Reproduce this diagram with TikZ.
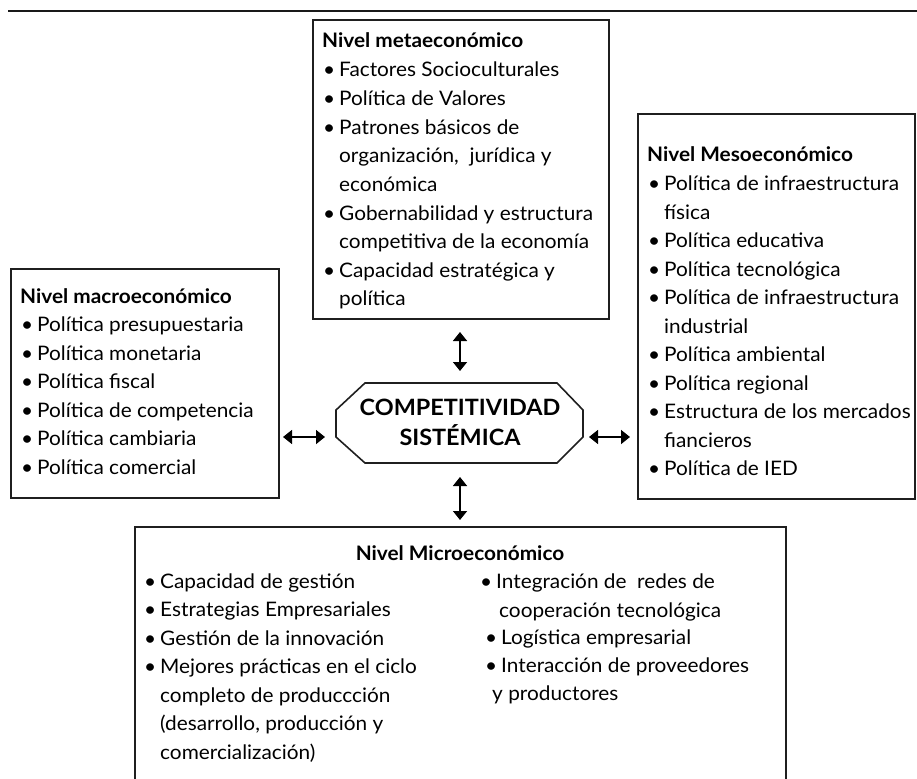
\documentclass[tikz,border=0pt]{standalone}
\usepackage{fontspec}
\setmainfont{Lato}[FakeStretch=1.04]
\usetikzlibrary{arrows.meta}
\newcommand\bul{\makebox[16pt][l]{\textbullet}}
\tikzset{
  ln/.style={anchor=base west, inner sep=0pt, font=\fontsize{20}{22}\selectfont},
  ttl/.style={anchor=base west, inner sep=0pt, font=\fontsize{20}{22}\selectfont\bfseries},
  frame/.style={draw=black!88, line width=1.6pt, inner sep=0pt, anchor=north west},
  biarrow/.style={line width=1.6pt, {Triangle[width=14pt,length=9pt]}-{Triangle[width=14pt,length=9pt]}},
}
\begin{document}
\begin{tikzpicture}[x=1pt,y=-1pt]
\useasboundingbox (0,0) rectangle (917,778);
% top rule
\coordinate (r1) at (8,11);
\coordinate (r2) at (917,11);
\draw[line width=2.6pt, black!90] (r1) -- (r2);

% boxes
\node[frame, minimum width=296pt, minimum height=299pt] (meta) at (312,19) {};
\node[frame, minimum width=268pt, minimum height=229pt] (macro) at (10,268) {};
\node[frame, minimum width=277pt, minimum height=385pt] (meso) at (637,113) {};
\coordinate (mi1) at (135,779);
\coordinate (mi2) at (135,527);
\coordinate (mi3) at (786,527);
\coordinate (mi4) at (786,779);
\draw[draw=black!88, line width=1.6pt] (mi1) -- (mi2) -- (mi3) -- (mi4);

% octagon
\coordinate (o1) at (336,410);
\coordinate (o2) at (365,383);
\coordinate (o3) at (557,383);
\coordinate (o4) at (583,410);
\coordinate (o5) at (583,437);
\coordinate (o6) at (557,463);
\coordinate (o7) at (365,463);
\coordinate (o8) at (336,437);
\draw[draw=black!88, line width=1.6pt] (o1) -- (o2) -- (o3) -- (o4) -- (o5) -- (o6) -- (o7) -- (o8) -- cycle;
\node[anchor=base, inner sep=0pt, font=\fontsize{22.5}{24}\selectfont\bfseries] (c1) at (460,415) {COMPETITIVIDAD};
\node[anchor=base, inner sep=0pt, font=\fontsize{22.5}{24}\selectfont\bfseries] (c2) at (460,445) {SISTÉMICA};

% arrows
\coordinate (at1) at (460,332);
\coordinate (at2) at (460,371);
\coordinate (ab1) at (460,477);
\coordinate (ab2) at (460,520);
\coordinate (al1) at (283,437);
\coordinate (al2) at (325,437);
\coordinate (ar1) at (589,437);
\coordinate (ar2) at (630,437);
\draw[biarrow] (at1) -- (at2);
\draw[biarrow] (ab1) -- (ab2);
\draw[biarrow] (al1) -- (al2);
\draw[biarrow] (ar1) -- (ar2);

% meta text
\node[ttl] (t1) at (322,48) {Nivel metaeconómico};
\node[ln] (t2) at (323,77) {\bul Factores Socioculturales};
\node[ln] (t3) at (323,105.6) {\bul Política de Valores};
\node[ln] (t4) at (323,134.2) {\bul Patrones básicos de};
\node[ln] (t5) at (339,162.8) {organización,\ \ jurídica y};
\node[ln] (t6) at (339,191.4) {económica};
\node[ln] (t7) at (323,220) {\bul Gobernabilidad y estructura};
\node[ln] (t8) at (339,248.6) {competitiva de la economía};
\node[ln] (t9) at (323,277.2) {\bul Capacidad estratégica y};
\node[ln] (t10) at (339,305.8) {política};

% macro text
\node[ttl] (l1) at (20,303) {Nivel macroeconómico};
\node[ln] (l2) at (21,331.5) {\bul Política presupuestaria};
\node[ln] (l3) at (21,360) {\bul Política monetaria};
\node[ln] (l4) at (21,388.5) {\bul Política fiscal};
\node[ln] (l5) at (21,417) {\bul Política de competencia};
\node[ln] (l6) at (21,445.5) {\bul Política cambiaria};
\node[ln] (l7) at (21,474) {\bul Política comercial};

% meso text
\node[ttl] (r01) at (647,162) {Nivel Mesoeconómico};
\node[ln] (r02) at (648,190.5) {\bul Política de infraestructura};
\node[ln] (r03) at (664,219) {física};
\node[ln] (r04) at (648,247.5) {\bul Política educativa};
\node[ln] (r05) at (648,276) {\bul Política tecnológica};
\node[ln] (r06) at (648,304.5) {\bul Política de infraestructura};
\node[ln] (r07) at (664,333) {industrial};
\node[ln] (r08) at (648,361.5) {\bul Política ambiental};
\node[ln] (r09) at (648,390) {\bul Política regional};
\node[ln] (r10) at (648,418.5) {\bul Estructura de los mercados};
\node[ln] (r11) at (664,447) {fiancieros};
\node[ln] (r12) at (648,475.5) {\bul Política de IED};

% micro text
\node[ttl, anchor=base] (b0) at (460,560) {Nivel Microeconómico};
\node[ln] (b1) at (144,588) {\bul Capacidad de gestión};
\node[ln] (b2) at (144,616.5) {\bul Estrategias Empresariales};
\node[ln] (b3) at (144,645) {\bul Gestión de la innovación};
\node[ln] (b4) at (144,673.5) {\bul Mejores prácticas en el ciclo};
\node[ln] (b5) at (160,702) {completo de produccción};
\node[ln] (b6) at (160,730.5) {(desarrollo, producción y};
\node[ln] (b7) at (160,759) {comercialización)};
\node[ln] (c01) at (480,588) {\bul Integración de\ \ redes de};
\node[ln] (c02) at (499,617) {cooperación tecnológica};
\node[ln] (c03) at (485,644) {\bul Logística empresarial};
\node[ln] (c04) at (485,672) {\bul Interacción de proveedores};
\node[ln] (c05) at (492,700) {y productores};
\end{tikzpicture}
\end{document}
